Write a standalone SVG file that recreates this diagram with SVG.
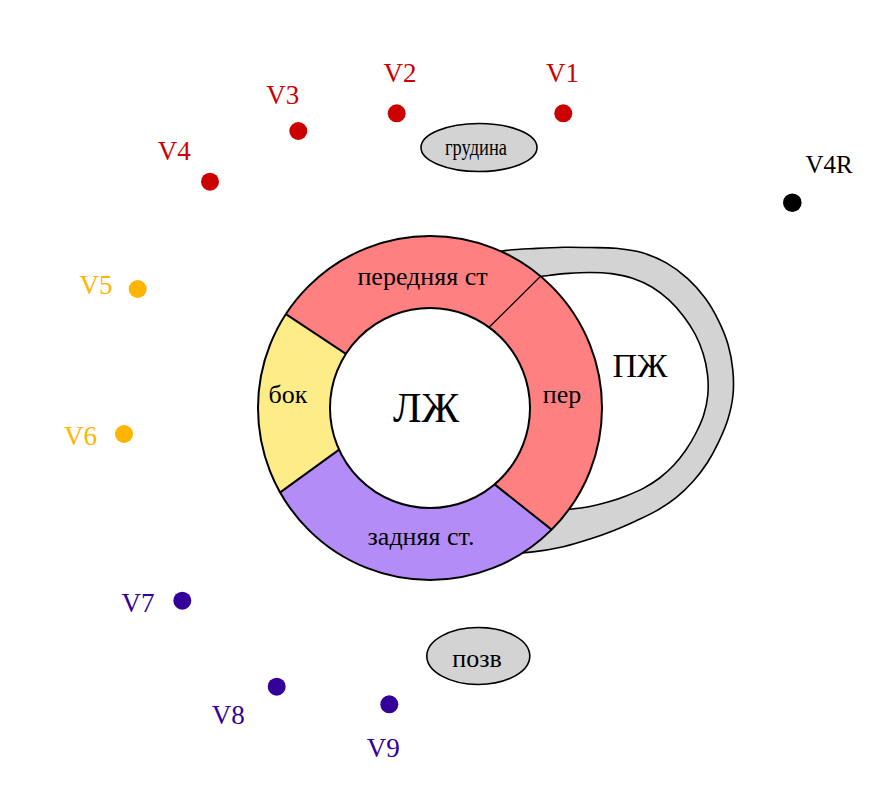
<svg xmlns="http://www.w3.org/2000/svg" width="890" height="799" viewBox="0 0 890 799">
<style>
text{font-family:"Liberation Serif","Times New Roman",serif}
.lbl{font-size:26px;fill:#000;text-anchor:middle}
.v{font-size:27px;text-anchor:middle}
.red{fill:#CC0000}
.amb{fill:#FFB400}
.pur{fill:#330099}
.blk{fill:#000}
.bone{fill:#D3D3D3;stroke:#000;stroke-width:1.6}
.div{stroke:#000;stroke-width:2;fill:none}
</style>
<rect width="890" height="799" fill="#fff"/>
<g id="rv">
<path d="M 474.3 257.1 C 485.28 253.88, 496.12 251.85, 506.5 250.4 C 516.88 248.95, 527.02 248.92, 536.6 248.4 C 546.18 247.88, 555.1 247.45, 564 247.3 C 572.9 247.15, 581.35 247.33, 590 247.5 C 598.65 247.67, 607.27 247.45, 615.9 248.3 C 624.53 249.15, 633.4 250.17, 641.8 252.6 C 650.2 255.03, 658.65 258.57, 666.3 262.9 C 673.95 267.23, 681.2 272.7, 687.7 278.6 C 694.2 284.5, 700.15 291.27, 705.3 298.3 C 710.45 305.33, 714.8 313.07, 718.6 320.8 C 722.4 328.53, 725.73 336.53, 728.1 344.7 C 730.47 352.87, 731.98 361.42, 732.8 369.8 C 733.62 378.18, 733.82 386.75, 733 395 C 732.18 403.25, 730.28 411.48, 727.9 419.3 C 725.52 427.12, 722.13 434.66, 718.7 441.9 C 715.27 449.14, 711.58 456.15, 707.3 462.75 C 703.02 469.35, 698.2 475.69, 693 481.5 C 687.8 487.31, 682.14 492.75, 676.1 497.6 C 670.06 502.45, 663.47 506.72, 656.75 510.6 C 650.03 514.48, 642.94 517.6, 635.8 520.9 C 628.66 524.2, 621.53 527.38, 613.9 530.4 C 606.27 533.42, 598.43 536.28, 590 539 C 581.57 541.72, 572.82 544.55, 563.3 546.7 C 553.78 548.85, 543.78 550.63, 532.9 551.9 C 522.02 553.17, 510.45 554.28, 498 554.3 L 430 420 Z" fill="#D3D3D3" stroke="#000" stroke-width="1.6"/>
<path d="M 523 279 C 530.87 277.9, 539 276.63, 546.6 275.7 C 554.2 274.77, 561.37 273.93, 568.6 273.4 C 575.83 272.87, 582.87 272.47, 590 272.5 C 597.13 272.53, 604.32 272.65, 611.4 273.6 C 618.48 274.55, 625.69 275.93, 632.5 278.2 C 639.31 280.47, 646.1 283.5, 652.25 287.2 C 658.4 290.9, 664.16 295.53, 669.4 300.4 C 674.64 305.27, 679.4 310.76, 683.7 316.4 C 688 322.04, 691.95 328.02, 695.2 334.25 C 698.45 340.48, 701.15 347.12, 703.2 353.8 C 705.25 360.48, 706.73 367.43, 707.5 374.3 C 708.27 381.17, 708.43 388.21, 707.8 395 C 707.17 401.79, 705.72 408.63, 703.7 415.05 C 701.68 421.47, 698.7 427.63, 695.7 433.5 C 692.7 439.37, 689.37 444.95, 685.7 450.25 C 682.03 455.55, 678.05 460.67, 673.7 465.3 C 669.35 469.93, 664.59 474.2, 659.6 478 C 654.61 481.8, 649.23 485.15, 643.75 488.1 C 638.27 491.05, 632.53 493.41, 626.7 495.7 C 620.87 497.99, 614.92 500.05, 608.8 501.85 C 602.68 503.65, 596.48 505.27, 590 506.5 C 583.52 507.73, 576.92 508.52, 569.9 509.2 C 562.88 509.88, 555.55 510.58, 547.9 510.6 C 540.25 510.62, 531.97 509.73, 524 509.3 L 440 410 Z" fill="#fff" stroke="#000" stroke-width="1.6"/>
<text class="lbl" x="640" y="377" style="font-size:34px">ПЖ</text>
</g>
<g id="lv">
<path id="seg-anterior" d="M 285.9 314.1 A 172 172 0 0 1 540.6 276.2 L 489.1 327.3 A 100 100 0 0 0 345.9 353.8 Z" fill="#FF8080"/>
<path id="seg-septal" d="M 540.6 276.2 A 172 172 0 0 1 551.6 529.6 L 494.6 484.4 A 100 100 0 0 0 489.1 327.3 Z" fill="#FF8080"/>
<path id="seg-posterior" d="M 551.6 529.6 A 172 172 0 0 1 280.2 492.4 L 339.1 449.6 A 100 100 0 0 0 494.6 484.4 Z" fill="#B48CF8"/>
<path id="seg-lateral" d="M 280.2 492.4 A 172 172 0 0 1 285.9 314.1 L 345.9 353.8 A 100 100 0 0 0 339.1 449.6 Z" fill="#FDEC88"/>
<circle cx="430" cy="408" r="172" fill="none" stroke="#000" stroke-width="2"/>
<circle cx="430" cy="408" r="100" fill="#fff" stroke="#000" stroke-width="2"/>
<line x1="540.6" y1="276.2" x2="489.1" y2="327.3" stroke="#000" stroke-width="1.2"/>
<line class="div" x1="551.6" y1="529.6" x2="494.6" y2="484.4"/>
<line class="div" x1="280.2" y1="492.4" x2="339.1" y2="449.6"/>
<line class="div" x1="285.9" y1="314.1" x2="345.9" y2="353.8"/>
<text class="lbl" x="422.5" y="285">передняя ст</text>
<text class="lbl" x="562" y="403">пер</text>
<text class="lbl" x="288" y="403">бок</text>
<text class="lbl" x="421" y="545">задняя ст.</text>
<text class="lbl" x="426" y="422" style="font-size:42px">ЛЖ</text>
</g>
<g id="sternum">
<ellipse class="bone" cx="479" cy="147.5" rx="58" ry="24"/>
<text class="lbl" x="476" y="155" style="font-size:24px" textLength="62" lengthAdjust="spacingAndGlyphs">грудина</text>
</g>
<g id="spine">
<ellipse class="bone" cx="478.3" cy="656" rx="51.5" ry="28.5"/>
<text class="lbl" x="477" y="667">позв</text>
</g>
<g id="V1"><circle class="red" cx="563.3" cy="113.3" r="9"/><text class="v red" x="562.5" y="82">V1</text></g>
<g id="V2"><circle class="red" cx="396.7" cy="113.3" r="9"/><text class="v red" x="400" y="82">V2</text></g>
<g id="V3"><circle class="red" cx="298.3" cy="131" r="9"/><text class="v red" x="282.7" y="104">V3</text></g>
<g id="V4"><circle class="red" cx="210" cy="181.7" r="9"/><text class="v red" x="174.2" y="160">V4</text></g>
<g id="V4R"><circle class="blk" cx="792.3" cy="202.7" r="9.3"/><text class="v blk" x="829" y="173" style="font-size:25px">V4R</text></g>
<g id="V5"><circle class="amb" cx="137.7" cy="289" r="9"/><text class="v amb" x="96" y="294">V5</text></g>
<g id="V6"><circle class="amb" cx="124" cy="434" r="9"/><text class="v amb" x="80.5" y="445">V6</text></g>
<g id="V7"><circle class="pur" cx="182.3" cy="600.7" r="9"/><text class="v pur" x="138" y="612">V7</text></g>
<g id="V8"><circle class="pur" cx="276.7" cy="686.7" r="9"/><text class="v pur" x="228.3" y="724">V8</text></g>
<g id="V9"><circle class="pur" cx="389.3" cy="704.3" r="9"/><text class="v pur" x="383.3" y="757">V9</text></g>
</svg>
